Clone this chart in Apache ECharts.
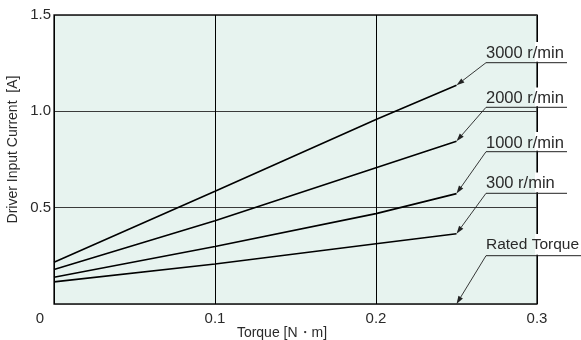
<!DOCTYPE html>
<html>
<head>
<meta charset="utf-8">
<script src="https://cdn.jsdelivr.net/npm/echarts@6/dist/echarts.min.js"></script>
<style>
html,body{margin:0;padding:0;background:#fff;}
#c{width:581px;height:340px;}
</style>
</head>
<body>
<div id="c"></div>
<script>
// ---- data ----
const torque = [0, 0.1, 0.2, 0.25];
const rpm3000 = [0.217, 0.585, 0.958, 1.135];
const rpm2000 = [0.179, 0.432, 0.707, 0.845];
const rpm1000 = [0.139, 0.298, 0.469, 0.573];
const rpm300  = [0.115, 0.208, 0.313, 0.365];
const seriesNames = ['3000 r/min', '2000 r/min', '1000 r/min', '300 r/min'];
const ratedTorque = 0.25;
const ratedLabel = 'Rated Torque';
const xTickValues = [0, 0.1, 0.2, 0.3];
const yTickValues = [0, 0.5, 1.0, 1.5];
const xName = 'Torque [N・m]';
const yName = 'Driver Input Current  [A]';

// ---- layout (pixels) ----
const labelX = 486;
const labelRows = [
  { textY: 53, lineY: 62.7, lineEnd: 567, size: 16.5 },
  { textY: 98.5, lineY: 107.3, lineEnd: 567, size: 16.5 },
  { textY: 143, lineY: 151.7, lineEnd: 567, size: 16.5 },
  { textY: 183.5, lineY: 193.3, lineEnd: 567, size: 16.5 },
  { textY: 245, lineY: 255.7, lineEnd: 581, size: 15.5 }
];
const FONT = '"Liberation Sans", Arial, sans-serif';
const TXT = '#2a2a2a';

const seriesValues = [rpm3000, rpm2000, rpm1000, rpm300];

const chart = echarts.init(document.getElementById('c'), null, { renderer: 'canvas' });

chart.setOption({
  animation: false,
  backgroundColor: '#fff',
  grid: {
    left: 54, right: 44, top: 15, bottom: 36,
    outerBoundsMode: 'none', containLabel: false,
    show: true, backgroundColor: '#e7f3ef', borderColor: '#111', borderWidth: 1.3
  },
  xAxis: {
    type: 'value', min: 0, max: 0.3, interval: 0.1,
    name: xName, nameLocation: 'middle', nameGap: 22, nameMoveOverlap: false,
    nameTextStyle: { fontFamily: FONT, fontSize: 14, color: TXT, padding: [0, 27, 0, 0] },
    axisLine: { show: false }, axisTick: { show: false },
    axisLabel: {
      margin: 7, fontFamily: FONT, fontSize: 15, color: TXT,
      formatter: function (v) {
        if (Math.abs(v) < 1e-9) return '{o|0}';
        const t = xTickValues.find(function (x) { return Math.abs(x - v) < 1e-9; });
        return t === undefined ? '' : t.toFixed(1);
      },
      rich: { o: { fontFamily: FONT, fontSize: 15, color: TXT, padding: [0, 28, 0, 0] } }
    },
    splitLine: { show: true, lineStyle: { color: '#000', width: 1 } }
  },
  yAxis: {
    type: 'value', min: 0, max: 1.5, interval: 0.5,
    name: yName, nameLocation: 'middle', nameGap: 34, nameRotate: 90, nameMoveOverlap: false,
    nameTextStyle: { fontFamily: FONT, fontSize: 14, color: TXT, padding: [0, 0, 0, 20] },
    axisLine: { show: false }, axisTick: { show: false },
    axisLabel: {
      margin: 3, fontFamily: FONT, fontSize: 15, color: TXT,
      formatter: function (v) {
        if (Math.abs(v) < 1e-9) return '';
        const t = yTickValues.find(function (y) { return Math.abs(y - v) < 1e-9; });
        return t === undefined ? '' : t.toFixed(1);
      }
    },
    splitLine: { show: true, lineStyle: { color: '#3a3a3a', width: 1 } }
  },
  series: seriesNames.map(function (name, i) {
    return {
      name: name, type: 'line', showSymbol: false, symbol: 'none',
      smooth: false,
      lineStyle: { color: '#000', width: 1.6 },
      data: torque.map(function (t, j) { return [t, seriesValues[i][j]]; })
    };
  })
});

// ---- annotations: labels with leader arrows ----
const labels = seriesNames.concat([ratedLabel]);
const tips = seriesValues.map(function (vals) {
  return chart.convertToPixel({ gridIndex: 0 }, [torque[torque.length - 1], vals[vals.length - 1]]);
}).concat([chart.convertToPixel({ gridIndex: 0 }, [ratedTorque, 0])]);

const borderX = chart.convertToPixel({ gridIndex: 0 }, [0.3, 0])[0];
const els = [];
labels.forEach(function (txt, i) {
  const row = labelRows[i];
  els.push({
    type: 'rect', z: 100, silent: true,
    shape: { x: borderX - 2, y: row.textY - 11, width: 4, height: row.lineY - row.textY + 10 },
    style: { fill: '#fff' }
  });
  els.push({
    type: 'text', z: 102, silent: true,
    style: {
      text: txt, x: labelX, y: row.textY,
      textAlign: 'left', textVerticalAlign: 'middle', align: 'left', verticalAlign: 'middle',
      font: row.size + 'px ' + FONT, fill: TXT
    }
  });
  els.push({
    type: 'line', z: 102, silent: true,
    shape: { x1: labelX, y1: row.lineY, x2: row.lineEnd, y2: row.lineY },
    style: { stroke: '#222', lineWidth: 1 }
  });
  const tip = tips[i];
  const sx = labelX, sy = row.lineY;
  const dx = tip[0] - sx, dy = tip[1] - sy;
  const L = Math.sqrt(dx * dx + dy * dy);
  const ux = dx / L, uy = dy / L;
  const nx = -uy, ny = ux;
  const al = 8, aw = 2.6;
  const bx = tip[0] - ux * al, by = tip[1] - uy * al;
  els.push({
    type: 'line', z: 102, silent: true,
    shape: { x1: sx, y1: sy, x2: bx, y2: by },
    style: { stroke: '#222', lineWidth: 0.9 }
  });
  els.push({
    type: 'polygon', z: 103, silent: true,
    shape: { points: [[tip[0], tip[1]], [bx + nx * aw, by + ny * aw], [bx - nx * aw, by - ny * aw]] },
    style: { fill: '#222' }
  });
});
chart.setOption({ graphic: els });
</script>
</body>
</html>
